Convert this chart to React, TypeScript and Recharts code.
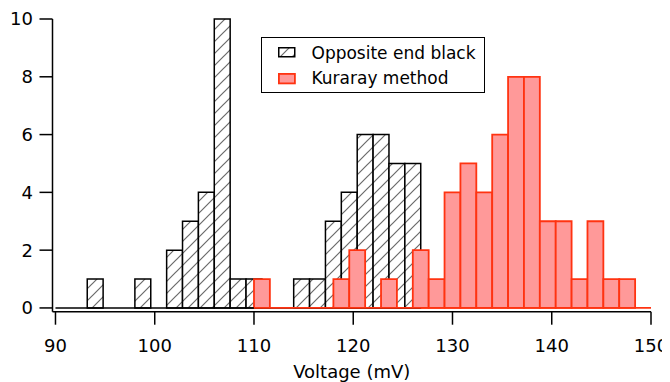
import React from "react";
import { ComposedChart, XAxis, YAxis, ReferenceArea, ReferenceLine } from "recharts";

// Histogram bins (left edges in mV) and counts
const binWidth = 1.6;
const blackStart = 93.2;
const blackCounts = [1, 0, 0, 1, 0, 2, 3, 4, 10, 1, 1, 0, 0, 1, 1, 3, 4, 6, 6, 5, 5];
const redStart = 110.0;
const redCounts = [1, 0, 0, 0, 0, 1, 2, 0, 1, 0, 2, 1, 4, 5, 4, 6, 8, 8, 3, 3, 1, 3, 1, 1];
const xTicks = [90, 100, 110, 120, 130, 140, 150];
const yTicks = [0, 2, 4, 6, 8, 10];
const seriesNames = ["Opposite end black", "Kuraray method"];

const blackBins = blackCounts.map((c, i) => ({ x0: +(blackStart + i * binWidth).toFixed(2), x1: +(blackStart + (i + 1) * binWidth).toFixed(2), count: c }));
const redBins = redCounts.map((c, i) => ({ x0: +(redStart + i * binWidth).toFixed(2), x1: +(redStart + (i + 1) * binWidth).toFixed(2), count: c }));

const RED_FILL = "#ff9999";
const RED_STROKE = "#ff3311";
const HATCH = "#6a6a6a";
const FONT = "'DejaVu Sans', Verdana, sans-serif";

export default function App() {
  const blackEnd = blackBins[blackBins.length - 1].x1;
  return (
    <div style={{ position: "relative", width: 662, height: 374, fontFamily: FONT }}>
      <ComposedChart
        width={662}
        height={374}
        data={[{ x: 90, y: 0 }, { x: 150, y: 10 }]}
        margin={{ top: 11, right: 19, bottom: 0, left: 0 }}
        style={{ fontFamily: FONT }}
      >
        <defs>
          <pattern id="hatch" patternUnits="userSpaceOnUse" width="12" height="12">
            <rect x="0" y="0" width="12" height="12" fill="#ffffff" />
            <path d="M0,12 L12,0 M-3,3 L3,-3 M9,15 L15,9" stroke={HATCH} strokeWidth="1.2" />
          </pattern>
        </defs>
        <XAxis
          dataKey="x"
          type="number"
          domain={[89.7, 150]}
          ticks={xTicks}
          allowDataOverflow
          height={70.3}
          tickSize={13}
          tickMargin={14.5}
          stroke="#000"
          strokeWidth={1.5}
          tick={{ fill: "#000", fontSize: 18, fontFamily: FONT }}
          label={{ value: "Voltage (mV)", position: "insideBottom", offset: 4, fill: "#000", fontSize: 18, fontFamily: FONT }}
        />
        <YAxis
          dataKey="y"
          type="number"
          domain={[-0.13, 10]}
          ticks={yTicks}
          allowDataOverflow
          width={44.5}
          tickSize={13}
          tickMargin={6.5}
          stroke="#000"
          strokeWidth={1.5}
          tick={{ fill: "#000", fontSize: 18, fontFamily: FONT }}
        />
        <ReferenceLine segment={[{ x: 90, y: 0 }, { x: blackEnd, y: 0 }]} stroke="#000" strokeWidth={1.5} />
        {blackBins.filter((b) => b.count > 0).map((b, i) => (
          <ReferenceArea
            key={"b" + i}
            x1={b.x0}
            x2={b.x1}
            y1={0}
            y2={b.count}
            fill="url(#hatch)"
            fillOpacity={1}
            stroke="#000"
            strokeWidth={1.5}
            ifOverflow="visible"
          />
        ))}
        <ReferenceLine segment={[{ x: redStart, y: 0 }, { x: 150, y: 0 }]} stroke={RED_STROKE} strokeWidth={1.8} />
        {redBins.filter((b) => b.count > 0).map((b, i) => (
          <ReferenceArea
            key={"r" + i}
            x1={b.x0}
            x2={b.x1}
            y1={0}
            y2={b.count}
            fill={RED_FILL}
            fillOpacity={1}
            stroke={RED_STROKE}
            strokeWidth={1.8}
            ifOverflow="visible"
          />
        ))}
      </ComposedChart>
      <div
        style={{
          position: "absolute",
          left: 253,
          top: 29.3,
          width: 224,
          height: 56,
          boxSizing: "border-box",
          border: "1.5px solid #000",
          background: "#fff",
          fontFamily: FONT,
          fontSize: 17,
          color: "#000",
        }}
      >
        <svg style={{ position: "absolute", left: 15.8, top: 9.2 }} width={18} height={11}>
          <defs>
            <pattern id="hatchL" patternUnits="userSpaceOnUse" width="12" height="12">
              <rect x="0" y="0" width="12" height="12" fill="#ffffff" />
              <path d="M0,12 L12,0 M-3,3 L3,-3 M9,15 L15,9" stroke={HATCH} strokeWidth="1.2" />
            </pattern>
          </defs>
          <rect x={0.75} y={0.75} width={16} height={9} fill="url(#hatchL)" stroke="#000" strokeWidth={1.5} />
        </svg>
        <svg style={{ position: "absolute", left: 15.8, top: 34.5 }} width={18} height={12}>
          <rect x={0.9} y={0.9} width={16} height={9.5} fill={RED_FILL} stroke={RED_STROKE} strokeWidth={1.8} />
        </svg>
        <span style={{ position: "absolute", left: 49.5, top: 4.5, lineHeight: "20px", whiteSpace: "nowrap" }}>{seriesNames[0]}</span>
        <span style={{ position: "absolute", left: 49.5, top: 29.3, lineHeight: "20px", whiteSpace: "nowrap" }}>{seriesNames[1]}</span>
      </div>
    </div>
  );
}
